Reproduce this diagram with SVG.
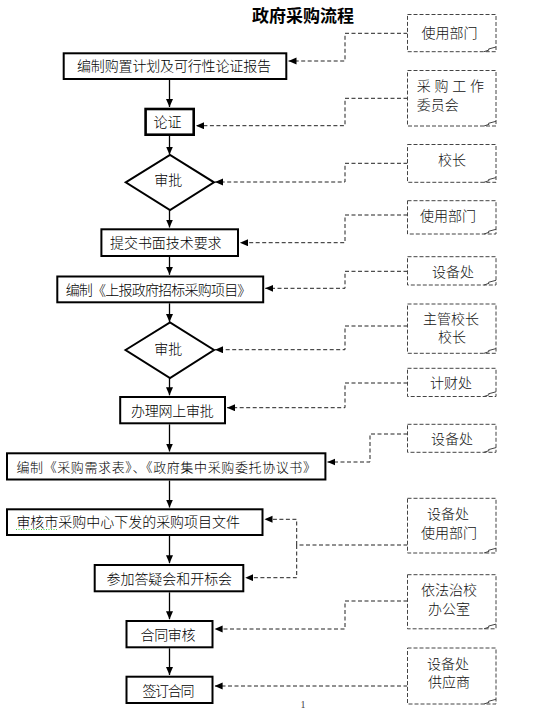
<svg xmlns="http://www.w3.org/2000/svg" width="547" height="709" viewBox="0 0 547 709">
<style>
.box{fill:#fff;stroke:#000;stroke-width:2}
.note{fill:#fff;stroke:#444;stroke-width:1;stroke-dasharray:4 2}
.curl{fill:none;stroke:#444;stroke-width:1}
.t{font-family:"Noto Sans CJK SC","Noto Sans",sans-serif;font-size:14px;font-weight:300;fill:#000}
.n{font-family:"Noto Sans CJK SC","Noto Sans",sans-serif;font-size:14px;font-weight:300;fill:#111;text-anchor:middle}
.flow{stroke:#000;stroke-width:1.3;fill:none}
.dash{stroke:#222;stroke-width:1;fill:none;stroke-dasharray:4 2.5}
</style>
<defs>
<marker id="ah" markerUnits="userSpaceOnUse" markerWidth="9" markerHeight="8" refX="8" refY="3.5" orient="auto">
<path d="M0,0 L8,3.5 L0,7 z" fill="#000"/>
</marker>
</defs>
<rect width="547" height="709" fill="#fff"/>
<text x="303" y="21.5" text-anchor="middle" font-family="'Noto Sans CJK SC','Noto Sans',sans-serif" font-size="17" font-weight="bold">政府采购流程</text>

<g id="connectors">
<line class="flow" x1="169.5" y1="80" x2="169.5" y2="107" marker-end="url(#ah)"/>
<line class="flow" x1="169.5" y1="136" x2="169.5" y2="154.5" marker-end="url(#ah)"/>
<line class="flow" x1="169.5" y1="210" x2="169.5" y2="227.5" marker-end="url(#ah)"/>
<line class="flow" x1="169.5" y1="257" x2="169.5" y2="274.8" marker-end="url(#ah)"/>
<line class="flow" x1="169.5" y1="303.3" x2="169.5" y2="322" marker-end="url(#ah)"/>
<line class="flow" x1="169.5" y1="378" x2="169.5" y2="395.3" marker-end="url(#ah)"/>
<line class="flow" x1="169.5" y1="424.3" x2="169.5" y2="451.5" marker-end="url(#ah)"/>
<line class="flow" x1="169.5" y1="480.5" x2="169.5" y2="507.5" marker-end="url(#ah)"/>
<line class="flow" x1="169.5" y1="536" x2="169.5" y2="563.2" marker-end="url(#ah)"/>
<line class="flow" x1="169.5" y1="592.3" x2="169.5" y2="619.2" marker-end="url(#ah)"/>
<line class="flow" x1="169.5" y1="648.3" x2="169.5" y2="675" marker-end="url(#ah)"/>

<path class="dash" d="M407.5,33.3 H345 V61 H288.5" marker-end="url(#ah)"/>
<path class="dash" d="M407.5,98.3 H345 V125.7 H196" marker-end="url(#ah)"/>
<path class="dash" d="M407.5,163.3 H345 V182 H215" marker-end="url(#ah)"/>
<path class="dash" d="M407.5,215 H345 V242.7 H240" marker-end="url(#ah)"/>
<path class="dash" d="M407.5,271.3 H345 V288.3 H265.2" marker-end="url(#ah)"/>
<path class="dash" d="M407.5,326 H345 V349.7 H215" marker-end="url(#ah)"/>
<path class="dash" d="M407.5,383 H345 V407.7 H227" marker-end="url(#ah)"/>
<path class="dash" d="M407.5,434 H370 V462 H327.4" marker-end="url(#ah)"/>
<path class="dash" d="M407.5,545 H296.7"/>
<path class="dash" d="M296.7,545 V519.3 H264.5" marker-end="url(#ah)"/>
<path class="dash" d="M296.7,545 V577.7 H245.3" marker-end="url(#ah)"/>
<path class="dash" d="M407.5,601 H345 V629 H214.6" marker-end="url(#ah)"/>
<path class="dash" d="M407.5,686 H214.6" marker-end="url(#ah)"/>
</g>

<g id="n-plan"><rect class="box" x="63.7" y="53.3" width="222.6" height="25.7"/><text class="t" x="174" y="71.3" text-anchor="middle" textLength="194">编制购置计划及可行性论证报告</text></g>
<g id="n-lunzheng"><rect class="box" x="145.6" y="109" width="48.1" height="25.7" style="stroke-width:2.6"/><text class="t" x="167.5" y="127.3" text-anchor="middle">论证</text></g>
<g id="n-approve1"><polygon class="box" points="125.7,182.3 170,155 214,182.3 170,210"/><text class="t" x="168.3" y="185.3" text-anchor="middle">审批</text></g>
<g id="n-tech"><rect class="box" x="101.4" y="229.3" width="136.6" height="26.7"/><text class="t" x="165.8" y="248" text-anchor="middle" textLength="111.6">提交书面技术要求</text></g>
<g id="n-report"><rect class="box" x="57.3" y="276.5" width="205.9" height="25.8"/><text class="t" x="158.5" y="294.8" text-anchor="middle" textLength="185.7">编制《上报政府招标采购项目》</text></g>
<g id="n-approve2"><polygon class="box" points="125.5,350 170,322.5 214,350 170,378"/><text class="t" x="168.3" y="353.6" text-anchor="middle">审批</text></g>
<g id="n-online"><rect class="box" x="120.2" y="397" width="104.8" height="26.3"/><text class="t" x="172.3" y="415.8" text-anchor="middle" textLength="82.7">办理网上审批</text></g>
<g id="n-demand"><rect class="box" x="7" y="453.3" width="318.4" height="26.2"/><text class="t" x="166.2" y="471.6" text-anchor="middle" style="font-size:13px" textLength="299.6">编制《采购需求表》、《政府集中采购委托协议书》</text></g>
<g id="n-review"><rect class="box" x="7" y="509.3" width="255.5" height="25.7"/><text class="t" x="16.4" y="527.3" textLength="223.6">审核市采购中心下发的采购项目文件</text><line x1="16" y1="529.5" x2="58" y2="529.5" stroke="#4c4" stroke-width="1" stroke-dasharray="1 1.5"/></g>
<g id="n-meeting"><rect class="box" x="94.7" y="565" width="148.6" height="26.3"/><text class="t" x="169.3" y="583.6" text-anchor="middle" textLength="125.6">参加答疑会和开标会</text></g>
<g id="n-contract-review"><rect class="box" x="126.5" y="621" width="86" height="26.3"/><text class="t" x="168" y="639.6" text-anchor="middle" textLength="54.8">合同审核</text></g>
<g id="n-sign"><rect class="box" x="126.5" y="676.7" width="86" height="26.3"/><text class="t" x="168.4" y="696" text-anchor="middle" textLength="52">签订合同</text></g>

<g id="note-1"><rect class="note" x="407.5" y="14.5" width="88.5" height="37.2"/><path class="curl" d="M484,51.7 L489,50 L488.5,49 L496,47"/><text class="n" x="449.5" y="38.3">使用部门</text></g>
<g id="note-2"><rect class="note" x="407.5" y="70.5" width="88.5" height="55.5"/><path class="curl" d="M484,126 L489,124.3 L488.5,123.3 L496,121.3"/><text class="n" x="416.7" y="91.3" style="text-anchor:start" textLength="67.3">采 购 工 作</text><text class="n" x="416.7" y="110.3" style="text-anchor:start">委员会</text></g>
<g id="note-3"><rect class="note" x="407.5" y="144.5" width="88.5" height="37.8"/><path class="curl" d="M484,182.3 L489,180.6 L488.5,179.6 L496,177.6"/><text class="n" x="452" y="165.3">校长</text></g>
<g id="note-4"><rect class="note" x="407.5" y="200.7" width="88.5" height="33.3"/><path class="curl" d="M484,234 L489,232.3 L488.5,231.3 L496,229.3"/><text class="n" x="448" y="221.3">使用部门</text></g>
<g id="note-5"><rect class="note" x="407.5" y="256.7" width="88.5" height="28.3"/><path class="curl" d="M484,285 L489,283.3 L488.5,282.3 L496,280.3"/><text class="n" x="453" y="276.8">设备处</text></g>
<g id="note-6"><rect class="note" x="407.5" y="304" width="88.5" height="49.3"/><path class="curl" d="M484,353.3 L489,351.6 L488.5,350.6 L496,348.6"/><text class="n" x="451" y="323.6">主管校长</text><text class="n" x="452" y="342.3">校长</text></g>
<g id="note-7"><rect class="note" x="407.5" y="368.3" width="88.5" height="28.2"/><path class="curl" d="M484,396.5 L489,394.8 L488.5,393.8 L496,391.8"/><text class="n" x="451" y="387.6">计财处</text></g>
<g id="note-8"><rect class="note" x="407.5" y="424.3" width="88.5" height="28"/><path class="curl" d="M484,452.3 L489,450.6 L488.5,449.6 L496,447.6"/><text class="n" x="452" y="443.6">设备处</text></g>
<g id="note-9"><rect class="note" x="407.5" y="498.3" width="88.5" height="54.7"/><path class="curl" d="M484,553 L489,551.3 L488.5,550.3 L496,548.3"/><text class="n" x="448" y="518.8">设备处</text><text class="n" x="449" y="537.6">使用部门</text></g>
<g id="note-10"><rect class="note" x="407.5" y="574.7" width="88.5" height="54.1"/><path class="curl" d="M484,628.8 L489,627.1 L488.5,626.1 L496,624.1"/><text class="n" x="449" y="595.3">依法治校</text><text class="n" x="449" y="614.3">办公室</text></g>
<g id="note-11"><rect class="note" x="407.5" y="648" width="88.5" height="56"/><path class="curl" d="M484,704 L489,702.3 L488.5,701.3 L496,699.3"/><text class="n" x="448" y="668.6">设备处</text><text class="n" x="449" y="687">供应商</text></g>

<text x="303" y="708" text-anchor="middle" font-family="'Liberation Serif',serif" font-size="10" fill="#444">1</text>
</svg>
